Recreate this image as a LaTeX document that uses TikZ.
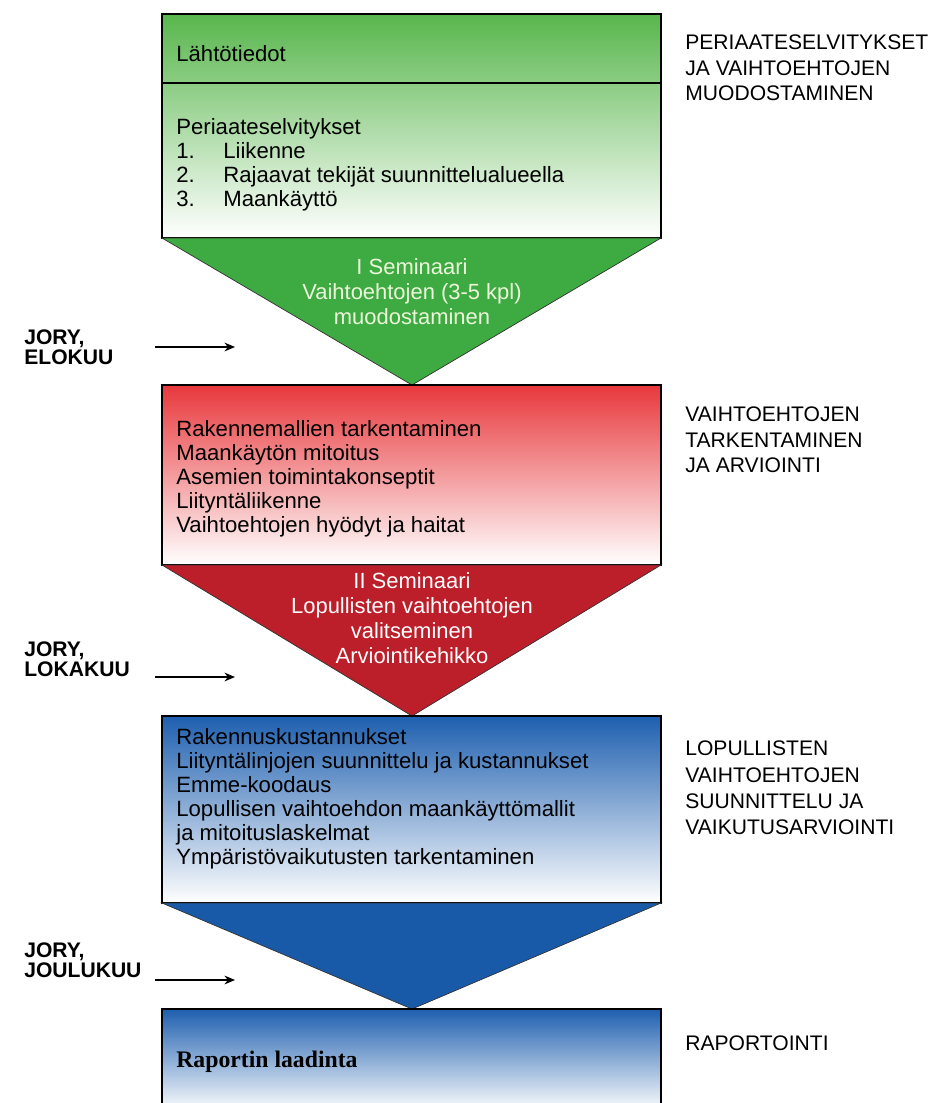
\documentclass[tikz,border=0pt]{standalone}
\usepackage{fontspec}
\setmainfont{Liberation Sans}
\newfontfamily\timesfont{Liberation Serif}
\usetikzlibrary{positioning,arrows.meta}

\definecolor{greentop}{RGB}{88,182,76}
\definecolor{greentri}{RGB}{62,170,66}
\definecolor{greentxt}{RGB}{236,246,218}
\definecolor{redtop}{RGB}{232,56,60}
\definecolor{redtri}{RGB}{188,30,42}
\definecolor{bluetop}{RGB}{30,95,175}
\definecolor{bluemid}{RGB}{160,178,222}
\definecolor{bluetri}{RGB}{25,90,168}
\definecolor{lastmid}{RGB}{178,186,230}

\tikzstyle{box} = [draw=black, line width=0.6pt]
\tikzstyle{tri} = [draw=black!80, line width=0.4pt]
\tikzstyle{boxtext} = [anchor=west, align=left, inner sep=0pt, font=\fontsize{12.6}{13.6}\selectfont]
\tikzstyle{tritext} = [align=center, inner sep=0pt, font=\fontsize{12.5}{14.2}\selectfont]
\tikzstyle{phase} = [anchor=west, align=left, inner sep=0pt, font=\fontsize{12}{14.5}\selectfont]
\tikzstyle{jory} = [anchor=west, align=left, inner sep=0pt, font=\bfseries\fontsize{12}{11.4}\selectfont]
\tikzstyle{arrow} = [line width=0.7pt,->,>={Stealth[length=6pt,width=5pt]}]

\newcommand{\numitem}[2]{\makebox[0.94cm][l]{#1}#2}

\begin{document}
\begin{tikzpicture}[x=0.02cm, y=-0.02cm]

\clip (0,0) rectangle (935,1103);

\fill[white] (0,0) rectangle (935,1103);

\draw[box, top color=greentop, bottom color=white] (162,14) rectangle (661,238);

\draw[box] (162,83) -- (661,83);

\draw[tri, fill=greentri] (162,238) -- (661,238) -- (412,385) -- cycle;

\draw[box, top color=redtop, bottom color=white] (162,385) rectangle (661,565);

\draw[tri, fill=redtri] (162,565) -- (661,565) -- (412,716) -- cycle;

\draw[box, top color=bluetop, middle color=bluemid, bottom color=white] (162,716) rectangle (661,903);

\draw[tri, fill=bluetri] (162,903) -- (661,903) -- (412,1009) -- cycle;

\draw[box, top color=bluetop, middle color=lastmid, bottom color=white] (162,1009) rectangle (661,1112);

\node (lahto) [boxtext] at (176,54) {Lähtötiedot};

\node (periaate) [boxtext] at (176,165) {Periaateselvitykset\\\numitem{1.}{Liikenne}\\\numitem{2.}{Rajaavat tekijät suunnittelualueella}\\\numitem{3.}{Maankäyttö}};

\node (sem1) [tritext, text=greentxt] at (412,292) {I Seminaari\\Vaihtoehtojen (3-5 kpl)\\muodostaminen};

\node (tarkennus) [boxtext] at (176,479) {Rakennemallien tarkentaminen\\Maankäytön mitoitus\\Asemien toimintakonseptit\\Liityntäliikenne\\Vaihtoehtojen hyödyt ja haitat};

\node (sem2) [tritext, text=white] at (412,618) {II Seminaari\\Lopullisten vaihtoehtojen\\valitseminen\\Arviointikehikko};

\node (suunnittelu) [boxtext] at (176,799) {Rakennuskustannukset\\Liityntälinjojen suunnittelu ja kustannukset\\Emme-koodaus\\Lopullisen vaihtoehdon maankäyttömallit\\ja mitoituslaskelmat\\Ympäristövaikutusten tarkentaminen};

\node (raportti) [boxtext, font=\timesfont\bfseries\fontsize{13.5}{15}\selectfont] at (176,1062) {Raportin laadinta};

\node (phase1) [phase] at (685,68) {PERIAATESELVITYKSET\\JA VAIHTOEHTOJEN\\MUODOSTAMINEN};

\node (phase2) [phase] at (685,440) {VAIHTOEHTOJEN\\TARKENTAMINEN\\JA ARVIOINTI};

\node (phase3) [phase,font=\fontsize{12}{15}\selectfont] at (685,788) {LOPULLISTEN\\VAIHTOEHTOJEN\\SUUNNITTELU JA\\VAIKUTUSARVIOINTI};

\node (phase4) [phase] at (685,1043) {RAPORTOINTI};

\node (jory1) [jory] at (24,347) {JORY,\\ELOKUU};

\node (jory2) [jory] at (24,659) {JORY,\\LOKAKUU};

\node (jory3) [jory] at (24,960) {JORY,\\JOULUKUU};

\coordinate (a1s) at (155,347);
\coordinate (a1e) at (235,347);
\coordinate (a2s) at (155,677);
\coordinate (a2e) at (235,677);
\coordinate (a3s) at (155,980);
\coordinate (a3e) at (235,980);

\draw[arrow] (a1s) -- (a1e);

\draw[arrow] (a2s) -- (a2e);

\draw[arrow] (a3s) -- (a3e);

\end{tikzpicture}
\end{document}
